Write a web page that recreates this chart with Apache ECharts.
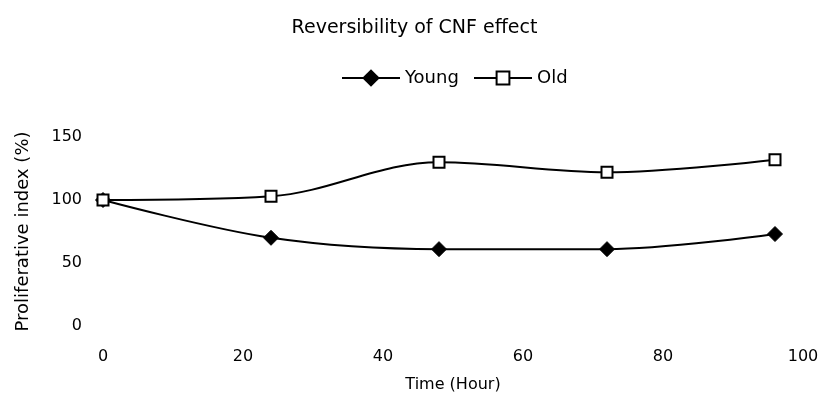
<!DOCTYPE html>
<html>
<head>
<meta charset="utf-8">
<script src="https://cdn.jsdelivr.net/npm/echarts@6/dist/echarts.min.js"></script>
<style>
  html, body { margin: 0; padding: 0; background: #fff; }
  #chart { width: 829px; height: 410px; }
</style>
</head>
<body>
<div id="chart"></div>
<script>
const hours = [0, 24, 48, 72, 96];
const young = [100, 70, 61, 61, 73];
const old = [100, 103, 130, 122, 132];

const pairs = (ys) => hours.map((h, i) => [h, ys[i]]);
const font = "'DejaVu Sans', sans-serif";
const legendText = { fontFamily: font, fontSize: 18, color: "#000" };

const chart = echarts.init(document.getElementById("chart"));
chart.setOption({
  animation: false,
  textStyle: { fontFamily: font, color: "#000" },
  title: {
    text: "Reversibility of CNF effect",
    left: "center",
    top: 14,
    textStyle: { fontFamily: font, fontSize: 19, fontWeight: "normal", color: "#000" },
  },
  // two legends so the diamond can be drawn larger than the square
  legend: [
    {
      top: 64,
      left: 336,
      itemWidth: 58,
      itemHeight: 22,
      textStyle: legendText,
      data: ["Young"],
    },
    {
      top: 64,
      left: 468,
      itemWidth: 58,
      itemHeight: 16,
      textStyle: legendText,
      data: ["Old"],
    },
  ],
  grid: { left: 103, right: 26, top: 137, bottom: 84 },
  xAxis: {
    type: "value",
    min: 0,
    max: 100,
    interval: 20,
    name: "Time (Hour)",
    nameLocation: "middle",
    nameGap: 51,
    nameTextStyle: { fontFamily: font, fontSize: 16, color: "#000" },
    axisLine: { show: false },
    axisTick: { show: false },
    splitLine: { show: false },
    axisLabel: { fontFamily: font, fontSize: 16, color: "#000", margin: 23 },
  },
  yAxis: {
    type: "value",
    min: 0,
    max: 150,
    interval: 50,
    name: "Proliferative index (%)",
    nameLocation: "middle",
    nameGap: 71,
    nameTextStyle: { fontFamily: font, fontSize: 18, color: "#000" },
    axisLine: { show: false },
    axisTick: { show: false },
    splitLine: { show: false },
    axisLabel: { fontFamily: font, fontSize: 16, color: "#000", margin: 21 },
  },
  series: [
    {
      name: "Young",
      type: "line",
      data: pairs(young),
      smooth: 0.35,
      symbol: "diamond",
      symbolSize: 15,
      lineStyle: { color: "#000", width: 2 },
      itemStyle: { color: "#000", borderColor: "#000" },
    },
    {
      name: "Old",
      type: "line",
      data: pairs(old),
      smooth: 0.35,
      symbol: "rect",
      symbolSize: 11,
      lineStyle: { color: "#000", width: 2 },
      itemStyle: { color: "#fff", borderColor: "#000", borderWidth: 2 },
    },
  ],
});
</script>
</body>
</html>
